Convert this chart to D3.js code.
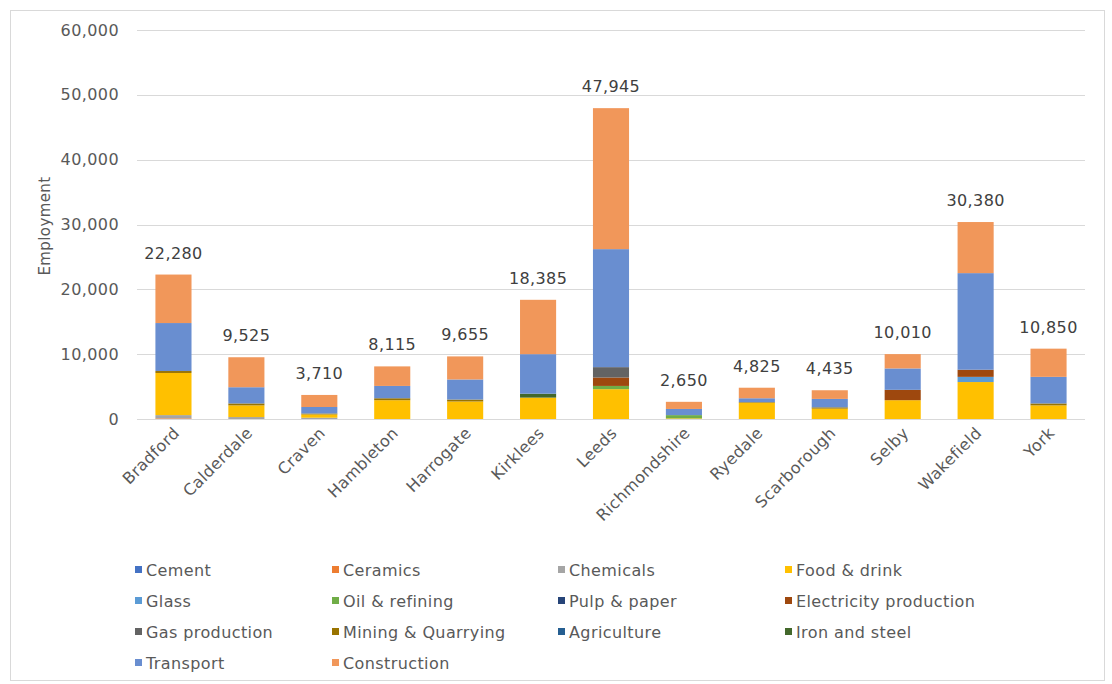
<!DOCTYPE html>
<html>
<head>
<meta charset="utf-8">
<script src="https://cdn.jsdelivr.net/npm/d3@7"></script>
<style>
  html, body { margin: 0; padding: 0; background: #fff; }
  svg { display: block; font-family: "DejaVu Sans", sans-serif; letter-spacing: 0.4px; }
</style>
</head>
<body>
<svg id="chart" width="1112" height="684"></svg>
<script>
// Employment by sector, local authorities
const regions = ["Bradford", "Calderdale", "Craven", "Hambleton", "Harrogate", "Kirklees", "Leeds",
  "Richmondshire", "Ryedale", "Scarborough", "Selby", "Wakefield", "York"];

const sectors = ["Cement", "Ceramics", "Chemicals", "Food & drink", "Glass", "Oil & refining",
  "Pulp & paper", "Electricity production", "Gas production", "Mining & Quarrying",
  "Agriculture", "Iron and steel", "Transport", "Construction"];

const sectorColors = ["#4472C4", "#ED7D31", "#A5A5A5", "#FFC000", "#5B9BD5", "#70AD47",
  "#264478", "#9E480E", "#636363", "#997300", "#255E91", "#43682B", "#698ED0", "#F1975A"];

// employment per sector, one value per region (order as in `regions`)
const cement       = [0, 0, 0, 0, 0, 0, 0, 0, 0, 0, 0, 0, 0];
const ceramics     = [100, 0, 0, 0, 0, 0, 0, 0, 0, 0, 0, 0, 0];
const chemicals    = [500, 300, 200, 0, 0, 0, 0, 0, 0, 0, 0, 0, 0];
const foodDrink    = [6500, 1800, 500, 2900, 2700, 3300, 4600, 100, 2500, 1600, 2900, 5700, 2100];
const glass        = [0, 0, 0, 0, 0, 0, 0, 0, 0, 0, 0, 800, 0];
const oilRefining  = [0, 0, 0, 0, 0, 0, 500, 500, 0, 0, 0, 0, 0];
const pulpPaper    = [0, 0, 0, 0, 0, 0, 0, 0, 0, 0, 0, 0, 0];
const electricity  = [0, 0, 0, 0, 0, 0, 1300, 0, 0, 0, 1600, 1100, 0];
const gasProd      = [0, 0, 0, 0, 0, 0, 1600, 0, 0, 0, 0, 0, 0];
const mining       = [300, 300, 150, 300, 300, 0, 0, 0, 100, 200, 0, 0, 300];
const agriculture  = [0, 0, 0, 0, 0, 0, 0, 0, 0, 0, 0, 0, 0];
const ironSteel    = [0, 0, 0, 0, 0, 600, 0, 0, 0, 0, 0, 0, 0];
const transport    = [7400, 2500, 1000, 1900, 3100, 6100, 18200, 950, 600, 1300, 3300, 14900, 4100];
const construction = [7480, 4625, 1860, 3015, 3555, 8385, 21745, 1100, 1625, 1335, 2210, 7880, 4350];

const totals = [22280, 9525, 3710, 8115, 9655, 18385, 47945, 2650, 4825, 4435, 10010, 30380, 10850];

const yTicks = [0, 10000, 20000, 30000, 40000, 50000, 60000];
const yTitle = "Employment";

const seriesValues = [cement, ceramics, chemicals, foodDrink, glass, oilRefining, pulpPaper,
  electricity, gasProd, mining, agriculture, ironSteel, transport, construction];

// rows for d3.stack: one per region, keyed by sector name
const rows = regions.map((r, i) => {
  const row = { region: r };
  sectors.forEach((s, k) => { row[s] = seriesValues[k][i]; });
  return row;
});

const svg = d3.select("#chart");
const W = 1112, H = 684;
const margin = { left: 137, right: 27, top: 30, bottom: 265 };
const textColor = "#595959";
const fontSize = "16px";

// outer chart frame
svg.append("rect")
  .attr("x", 10.5).attr("y", 10.5)
  .attr("width", 1094).attr("height", 670)
  .attr("fill", "#fff").attr("stroke", "#d9d9d9").attr("stroke-width", 1);

const x = d3.scaleBand()
  .domain(regions)
  .range([margin.left, W - margin.right])
  .paddingInner(0.505)
  .paddingOuter(0.2525);

const y = d3.scaleLinear()
  .domain([0, 60000])
  .range([H - margin.bottom, margin.top]);

// gridlines
svg.append("g")
  .selectAll("line")
  .data(yTicks)
  .join("line")
  .attr("x1", margin.left).attr("x2", W - margin.right)
  .attr("y1", d => Math.round(y(d)) + 0.5).attr("y2", d => Math.round(y(d)) + 0.5)
  .attr("stroke", "#d9d9d9").attr("stroke-width", 1);

// y axis labels
const yAxis = d3.axisLeft(y).tickValues(yTicks).tickFormat(d3.format(",")).tickSize(0).tickPadding(18);
const gy = svg.append("g").attr("transform", `translate(${margin.left},0)`).call(yAxis);
gy.select(".domain").remove();
gy.selectAll("text").attr("fill", textColor).style("font-size", fontSize)
  .style("font-family", "'DejaVu Sans', sans-serif");

svg.append("text")
  .attr("transform", `translate(50,226) rotate(-90)`)
  .attr("text-anchor", "middle")
  .attr("fill", textColor)
  .style("font-size", "15px")
  .text(yTitle);

// stacked bars
const stack = d3.stack().keys(sectors);
const layers = stack(rows);

svg.append("g")
  .selectAll("g")
  .data(layers)
  .join("g")
  .attr("fill", (d, i) => sectorColors[i])
  .selectAll("rect")
  .data(d => d)
  .join("rect")
  .attr("x", d => x(d.data.region))
  .attr("width", x.bandwidth())
  .attr("y", d => y(d[1]))
  .attr("height", d => Math.max(0, y(d[0]) - y(d[1])));

// total labels above each bar
const topOf = layers[layers.length - 1];
svg.append("g")
  .selectAll("text")
  .data(regions)
  .join("text")
  .attr("x", d => x(d) + x.bandwidth() / 2)
  .attr("y", (d, i) => y(topOf[i][1]) - 16)
  .attr("text-anchor", "middle")
  .attr("fill", "#404040")
  .style("font-size", fontSize)
  .text((d, i) => d3.format(",")(totals[i]));

// x axis labels, rotated
const xAxis = d3.axisBottom(x).tickSize(0).tickPadding(0);
const gx = svg.append("g").attr("transform", `translate(0,${y(0)})`).call(xAxis);
gx.select(".domain").remove();
gx.selectAll("text")
  .attr("fill", textColor)
  .style("font-size", fontSize)
  .style("font-family", "'DejaVu Sans', sans-serif")
  .attr("text-anchor", "end")
  .attr("dy", null)
  .attr("transform", "translate(7,15) rotate(-45)");

// legend: 4 columns
const colX = [135, 332, 558, 785];
const rowY0 = 570, rowStep = 31;
const legend = svg.append("g")
  .selectAll("g")
  .data(sectors)
  .join("g")
  .attr("transform", (d, i) => `translate(${colX[i % 4]},${rowY0 + Math.floor(i / 4) * rowStep})`);
legend.append("rect")
  .attr("x", 0).attr("y", -4)
  .attr("width", 7).attr("height", 7)
  .attr("fill", (d, i) => sectorColors[i]);
legend.append("text")
  .attr("x", 11).attr("y", 0)
  .attr("dy", "0.35em")
  .attr("fill", textColor)
  .style("font-size", fontSize)
  .text(d => d);
</script>
</body>
</html>
